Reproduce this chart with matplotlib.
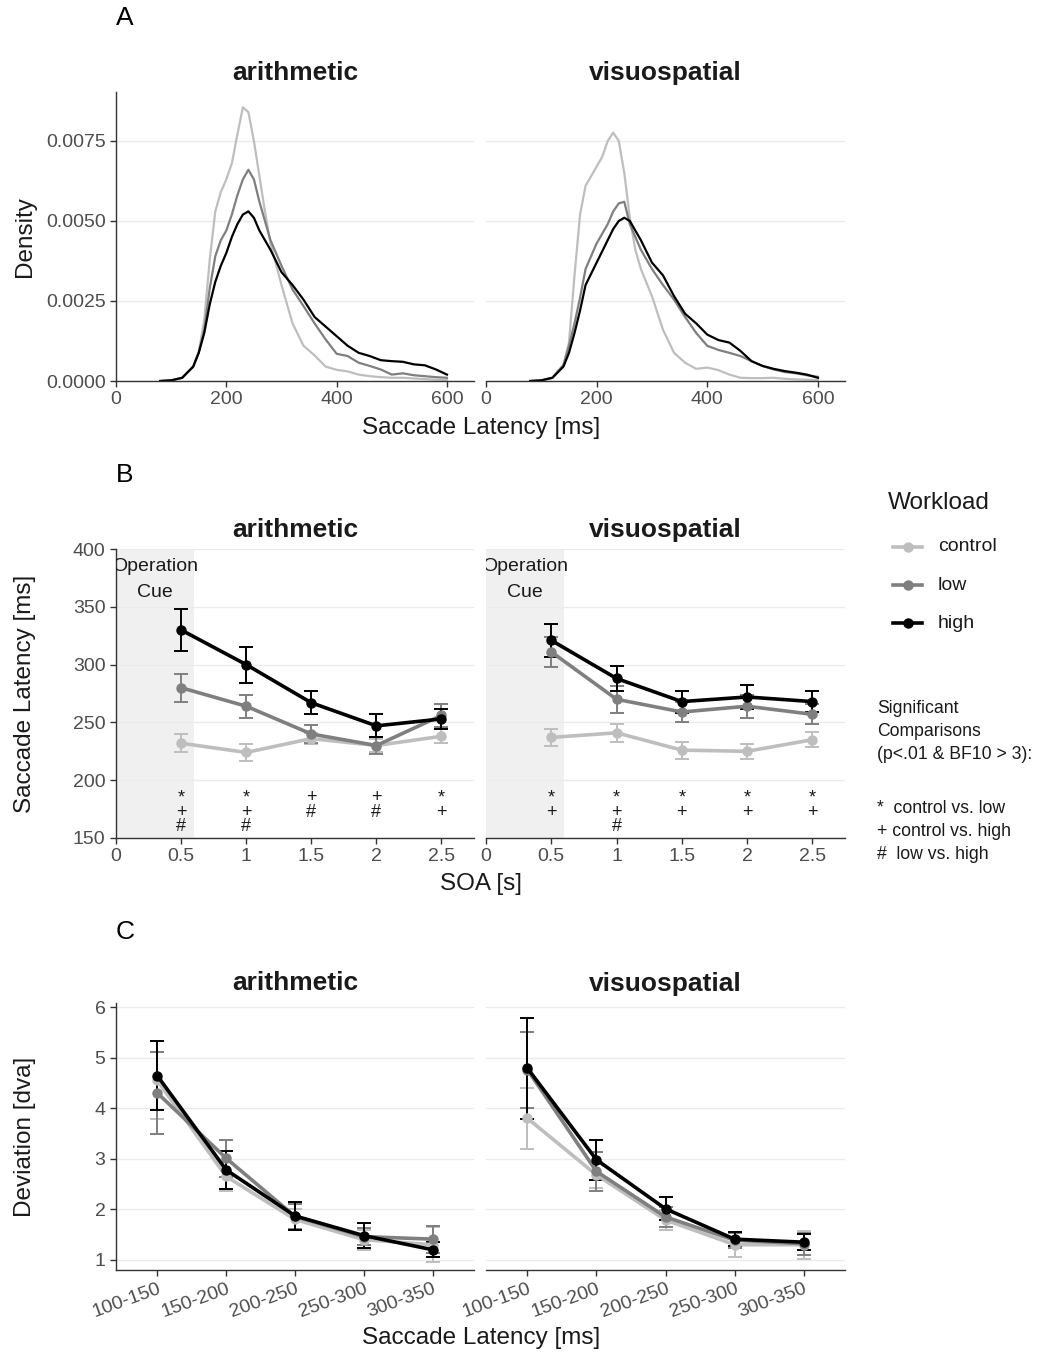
import matplotlib
matplotlib.use('Agg')
import matplotlib.pyplot as plt
import numpy as np

plt.rcParams.update({
    'font.family': ['Liberation Sans', 'DejaVu Sans'],
    'font.size': 13,
    'axes.linewidth': 1.0,
})

W, H = 1048, 1354

# ---------------- data ----------------
tasks = ['arithmetic', 'visuospatial']
workloads = ['control', 'low', 'high']
colors = {'control': '#BEBEBE', 'low': '#7F7F7F', 'high': '#000000'}

# Panel A: density of saccade latency (values in 1e-3)
lat_ms = [80, 100, 120, 140, 150, 160, 170, 180, 190, 200, 210, 220, 230, 240, 250, 260, 270,
          280, 300, 320, 340, 360, 380, 400, 420, 440, 460, 480, 500, 520, 540, 560, 580, 600]
dens_arith_control = [0, 0.02, 0.1, 0.45, 0.9, 1.9, 3.8, 5.3, 5.9, 6.3, 6.8, 7.7, 8.55, 8.4, 7.5, 6.4, 5.3,
                      4.3, 3.0, 1.8, 1.1, 0.8, 0.45, 0.35, 0.3, 0.2, 0.15, 0.12, 0.1, 0.1, 0.08, 0.06, 0.04, 0.03]
dens_arith_low = [0, 0.02, 0.1, 0.45, 0.9, 1.6, 2.9, 3.9, 4.4, 4.7, 5.2, 5.8, 6.3, 6.6, 6.3, 5.6, 5.0,
                  4.4, 3.6, 2.86, 2.34, 1.8, 1.3, 0.85, 0.78, 0.57, 0.47, 0.36, 0.2, 0.24, 0.18, 0.15, 0.12, 0.1]
dens_arith_high = [0, 0.02, 0.1, 0.45, 0.88, 1.5, 2.4, 3.1, 3.6, 4.0, 4.5, 4.9, 5.2, 5.3, 5.1, 4.7, 4.4,
                   4.1, 3.4, 3.0, 2.54, 2.0, 1.7, 1.4, 1.1, 0.88, 0.78, 0.65, 0.62, 0.6, 0.52, 0.49, 0.36, 0.2]
dens_visuo_control = [0, 0.02, 0.1, 0.5, 1.2, 3.3, 5.2, 6.1, 6.4, 6.7, 7.0, 7.5, 7.76, 7.5, 6.5, 5.1, 4.1,
                      3.5, 2.65, 1.6, 0.88, 0.57, 0.38, 0.42, 0.34, 0.2, 0.1, 0.09, 0.09, 0.1, 0.07, 0.05, 0.04, 0.03]
dens_visuo_low = [0, 0.02, 0.1, 0.5, 1.1, 1.8, 2.6, 3.5, 3.9, 4.3, 4.6, 4.9, 5.3, 5.55, 5.6, 4.9, 4.5,
                  4.1, 3.5, 3.0, 2.54, 2.0, 1.5, 1.1, 0.97, 0.88, 0.78, 0.62, 0.47, 0.36, 0.28, 0.24, 0.18, 0.13]
dens_visuo_high = [0, 0.02, 0.1, 0.45, 0.88, 1.5, 2.2, 3.0, 3.35, 3.7, 4.05, 4.4, 4.75, 5.0, 5.1, 5.0, 4.7,
                   4.4, 3.7, 3.3, 2.65, 2.1, 1.8, 1.45, 1.28, 1.2, 0.94, 0.62, 0.47, 0.38, 0.31, 0.26, 0.2, 0.1]

# Panel B: saccade latency by SOA (mean, error)
soa = [0.5, 1.0, 1.5, 2.0, 2.5]
lat_arith = {'control': [232, 224, 236, 230, 238], 'low': [280, 264, 240, 230, 256],
             'high': [330, 300, 267, 247, 253]}
lat_arith_err = {'control': [8, 7, 5, 6, 6], 'low': [12, 10, 8, 7, 10], 'high': [18, 15.5, 10, 10, 9]}
lat_visuo = {'control': [237, 241, 226, 225, 235], 'low': [311, 270, 259, 264, 257],
             'high': [321, 288, 268, 272, 268]}
lat_visuo_err = {'control': [7.5, 7.7, 7.3, 6.5, 6.7], 'low': [13, 11.7, 9, 10, 8.5],
                 'high': [14.5, 11, 9.5, 10, 9]}
sig_arith = ['*\n+\n#', '*\n+\n#', '+\n#', '+\n#', '*\n+']
sig_visuo = ['*\n+', '*\n+\n#', '*\n+', '*\n+', '*\n+']

# Panel C: deviation by saccade latency bin
lat_bins = ['100-150', '150-200', '200-250', '250-300', '300-350']
dev_arith = {'control': [4.55, 2.65, 1.80, 1.40, 1.30], 'low': [4.30, 3.01, 1.86, 1.46, 1.41],
             'high': [4.64, 2.78, 1.87, 1.48, 1.20]}
dev_arith_err = {'control': [0.77, 0.28, 0.2, 0.2, 0.35], 'low': [0.82, 0.37, 0.25, 0.17, 0.27],
                 'high': [0.68, 0.37, 0.27, 0.25, 0.15]}
dev_visuo = {'control': [3.80, 2.68, 1.79, 1.30, 1.30], 'low': [4.76, 2.75, 1.85, 1.39, 1.32],
             'high': [4.79, 2.98, 2.01, 1.41, 1.35]}
dev_visuo_err = {'control': [0.6, 0.26, 0.2, 0.25, 0.28], 'low': [0.75, 0.38, 0.2, 0.15, 0.22],
                 'high': [1.0, 0.4, 0.23, 0.14, 0.16]}

# ---------------- layout ----------------
fig = plt.figure(figsize=(W / 100, H / 100), dpi=100)


def rect(x0, y0, x1, y1):
    return [x0 / W, 1 - y1 / H, (x1 - x0) / W, (y1 - y0) / H]


TICK_C = '#4D4D4D'
AX_C = '#333333'
GRID_C = '#EBEBEB'
TXT_C = '#1A1A1A'


def style(ax, left=True):
    for s in ['top', 'right']:
        ax.spines[s].set_visible(False)
    ax.spines['bottom'].set_color(AX_C)
    ax.spines['left'].set_color(AX_C)
    ax.spines['left'].set_visible(left)
    ax.tick_params(colors=AX_C, labelcolor=TICK_C, labelsize=14, length=4, width=1)
    if not left:
        ax.tick_params(axis='y', left=False, labelleft=False)
    ax.yaxis.grid(True, color=GRID_C, linewidth=1)
    ax.set_axisbelow(True)


def ylab(ax, txt):
    ax.set_ylabel(txt, fontsize=17.5, color=TXT_C)
    ax.yaxis.set_label_coords((36 - 116) / 358, 0.5)


cols = [(116, 474), (486, 845)]

# ---- Panel A ----
dens = {'arithmetic': [dens_arith_control, dens_arith_low, dens_arith_high],
        'visuospatial': [dens_visuo_control, dens_visuo_low, dens_visuo_high]}
for i, task in enumerate(tasks):
    ax = fig.add_axes(rect(cols[i][0], 92, cols[i][1], 381))
    style(ax, left=(i == 0))
    for wl, d in zip(workloads, dens[task]):
        ax.plot(lat_ms, np.array(d) * 1e-3, color=colors[wl], lw=1.6)
    ax.set_xlim(0, 649)
    ax.set_ylim(0, 0.00903)
    ax.set_xticks([0, 200, 400, 600])
    ax.set_yticks([0, 0.0025, 0.005, 0.0075])
    ax.set_yticklabels(['0.0000', '0.0025', '0.0050', '0.0075'])
    ax.set_title(task, fontsize=19, fontweight='bold', color=TXT_C, pad=9)
    if i == 0:
        ylab(ax, 'Density')

fig.text(481 / W, 1 - 428 / H, 'Saccade Latency [ms]', ha='center', va='center', fontsize=17.5, color=TXT_C)
fig.text(125 / W, 1 - 18 / H, 'A', ha='center', va='center', fontsize=19)

# ---- Panel B ----
lat_data = {'arithmetic': (lat_arith, lat_arith_err, sig_arith),
            'visuospatial': (lat_visuo, lat_visuo_err, sig_visuo)}
for i, task in enumerate(tasks):
    ax = fig.add_axes(rect(cols[i][0], 549, cols[i][1], 838))
    style(ax, left=(i == 0))
    ax.axvspan(0, 0.6, color='#F0F0F0', zorder=0, lw=0)
    ax.text(0.3, 385, 'Operation', ha='center', va='center', fontsize=14, color=TXT_C, clip_on=True)
    ax.text(0.3, 362, 'Cue', ha='center', va='center', fontsize=14, color=TXT_C)
    means, errs, sig = lat_data[task]
    for wl in workloads:
        ax.errorbar(soa, means[wl], yerr=errs[wl], color=colors[wl], lw=2.6, marker='o', ms=6.5,
                    capsize=5, elinewidth=1.4, capthick=1.4)
    for x, s in zip(soa, sig):
        ax.text(x, 192, s, ha='center', va='top', fontsize=13, linespacing=0.78, color=TXT_C)
    ax.set_xlim(0, 2.75)
    ax.set_ylim(150, 400)
    ax.set_xticks([0, 0.5, 1, 1.5, 2, 2.5])
    ax.set_xticklabels(['0', '0.5', '1', '1.5', '2', '2.5'])
    ax.set_yticks([150, 200, 250, 300, 350, 400])
    ax.set_title(task, fontsize=19, fontweight='bold', color=TXT_C, pad=9)
    if i == 0:
        ylab(ax, 'Saccade Latency [ms]')

fig.text(481 / W, 1 - 884 / H, 'SOA [s]', ha='center', va='center', fontsize=17.5, color=TXT_C)
fig.text(125 / W, 1 - 475 / H, 'B', ha='center', va='center', fontsize=19)

# legend
fig.text(888 / W, 1 - 503 / H, 'Workload', ha='left', va='center', fontsize=17.5, color=TXT_C)
for k, wl in enumerate(workloads):
    yy = 1 - (547 + 38 * k) / H
    fig.add_artist(plt.Line2D([893 / W, 922 / W], [yy, yy], color=colors[wl], lw=2.6))
    fig.add_artist(plt.Line2D([907.5 / W], [yy], color=colors[wl], marker='o', ms=6.5))
    fig.text(938 / W, yy, wl, ha='left', va='center', fontsize=14, color=TXT_C)

fig.text(877 / W, 1 - 700 / H, 'Significant\nComparisons\n(p<.01 & BF10 > 3):',
         ha='left', va='top', fontsize=12.7, linespacing=1.45, color=TXT_C)
fig.text(877 / W, 1 - 800 / H, '*  control vs. low\n+ control vs. high\n#  low vs. high',
         ha='left', va='top', fontsize=12.7, linespacing=1.45, color=TXT_C)

# ---- Panel C ----
dev_data = {'arithmetic': (dev_arith, dev_arith_err), 'visuospatial': (dev_visuo, dev_visuo_err)}
xpos = np.arange(1, len(lat_bins) + 1)
for i, task in enumerate(tasks):
    ax = fig.add_axes(rect(cols[i][0], 1003, cols[i][1], 1270))
    style(ax, left=(i == 0))
    means, errs = dev_data[task]
    for wl in workloads:
        ax.errorbar(xpos, means[wl], yerr=errs[wl], color=colors[wl], lw=2.6, marker='o', ms=6.5,
                    capsize=5, elinewidth=1.4, capthick=1.4)
    ax.set_xlim(0.4, 5.6)
    ax.set_ylim(0.8, 6.08)
    ax.set_xticks(xpos)
    ax.set_xticklabels(lat_bins, rotation=20, ha='right', rotation_mode='anchor')
    ax.set_yticks([1, 2, 3, 4, 5, 6])
    ax.set_title(task, fontsize=19, fontweight='bold', color=TXT_C, pad=9)
    if i == 0:
        ylab(ax, 'Deviation [dva]')

fig.text(481 / W, 1 - 1338 / H, 'Saccade Latency [ms]', ha='center', va='center', fontsize=17.5, color=TXT_C)
fig.text(125 / W, 1 - 932 / H, 'C', ha='center', va='center', fontsize=19)

fig.savefig('out.png', dpi=100, facecolor='white')
